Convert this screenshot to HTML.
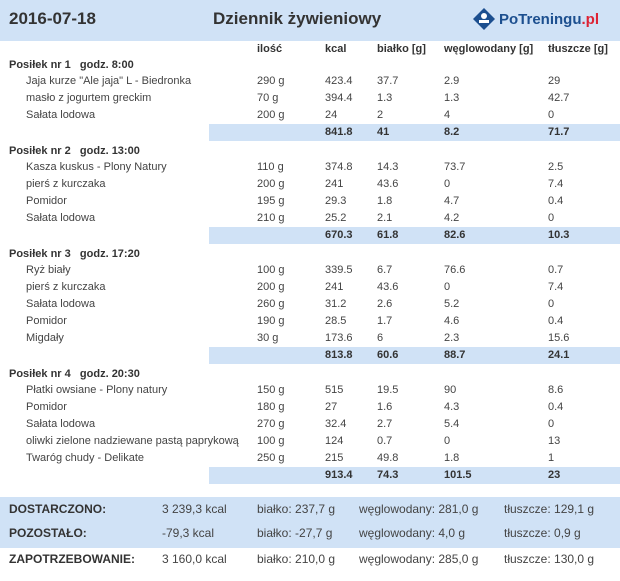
<!DOCTYPE html>
<html><head><meta charset="utf-8">
<style>
body{margin:0;width:620px;height:581px;background:#fff;position:relative;overflow:hidden;font-family:"Liberation Sans","DejaVu Sans",sans-serif;color:#444}
.t{position:absolute;white-space:nowrap;font-size:11px;line-height:14px}
.b{font-weight:bold;color:#333}
.band{position:absolute;background:#d0e2f6}
</style></head>
<body>
<div class="band" style="left:0;top:0;width:620px;height:41px"></div>
<div class="t b" style="left:9px;top:9px;font-size:17px;line-height:20px">2016-07-18</div>
<div class="t b" style="left:213px;top:9px;font-size:17px;line-height:20px">Dziennik żywieniowy</div>
<div style="position:absolute;left:472px;top:7px">
<svg width="140" height="24"><polygon points="12,1 23,12 12,23 1,12" fill="#1c4f8f"/><circle cx="12" cy="9" r="3" fill="#fff"/><rect x="7" y="13" width="10" height="3" fill="#fff"/><text x="27" y="17" font-family="Liberation Sans" font-size="15" font-weight="bold" fill="#1c4f8f">PoTreningu<tspan fill="#d23">.pl</tspan></text></svg></div>
<div id="root"></div>
<script>
const cols=[257,325,377,444,548];
const colHeads=["ilość","kcal","białko [g]","węglowodany [g]","tłuszcze [g]"];
const meals=["Posiłek nr 1   godz. 8:00","Posiłek nr 2   godz. 13:00","Posiłek nr 3   godz. 17:20","Posiłek nr 4   godz. 20:30"];
const items=[
[["Jaja kurze \"Ale jaja\" L - Biedronka","290 g","423.4","37.7","2.9","29"],["masło z jogurtem greckim","70 g","394.4","1.3","1.3","42.7"],["Sałata lodowa","200 g","24","2","4","0"]],
[["Kasza kuskus - Plony Natury","110 g","374.8","14.3","73.7","2.5"],["pierś z kurczaka","200 g","241","43.6","0","7.4"],["Pomidor","195 g","29.3","1.8","4.7","0.4"],["Sałata lodowa","210 g","25.2","2.1","4.2","0"]],
[["Ryż biały","100 g","339.5","6.7","76.6","0.7"],["pierś z kurczaka","200 g","241","43.6","0","7.4"],["Sałata lodowa","260 g","31.2","2.6","5.2","0"],["Pomidor","190 g","28.5","1.7","4.6","0.4"],["Migdały","30 g","173.6","6","2.3","15.6"]],
[["Płatki owsiane - Plony natury","150 g","515","19.5","90","8.6"],["Pomidor","180 g","27","1.6","4.3","0.4"],["Sałata lodowa","270 g","32.4","2.7","5.4","0"],["oliwki zielone nadziewane pastą paprykową","100 g","124","0.7","0","13"],["Twaróg chudy - Delikate","250 g","215","49.8","1.8","1"]]];
const totals=[["841.8","41","8.2","71.7"],["670.3","61.8","82.6","10.3"],["813.8","60.6","88.7","24.1"],["913.4","74.3","101.5","23"]];
const summary=[["DOSTARCZONO:","3 239,3 kcal","białko: 237,7 g","węglowodany: 281,0 g","tłuszcze: 129,1 g"],["POZOSTAŁO:","-79,3 kcal","białko: -27,7 g","węglowodany: 4,0 g","tłuszcze: 0,9 g"],["ZAPOTRZEBOWANIE:","3 160,0 kcal","białko: 210,0 g","węglowodany: 285,0 g","tłuszcze: 130,0 g"]];
const sumX=[9,162,257,359,504];
const root=document.body;
function txt(s,x,y,cls,name){const d=document.createElement('div');d.className='t '+(cls||'');d.style.left=x+'px';d.style.top=(y-7)+'px';d.textContent=s;


root.appendChild(d);return d;}
colHeads.forEach((h,i)=>txt(h,cols[i],49,'b','column-header'));
let y=65;const rh=17;
meals.forEach((m,mi)=>{
 const mt=txt(m,9,y,'b','meal-title');mt.style.whiteSpace='pre';
 y+=rh-1;
 items[mi].forEach(r=>{txt(r[0],26,y,'','food-name');for(let k=1;k<6;k++)txt(r[k],cols[k-1],y,'','food-value');y+=rh;});
 const band=document.createElement('div');band.className='band';band.style.left='209px';band.style.top=(y-8)+'px';band.style.width='411px';band.style.height='17px';
 
 
 root.appendChild(band);
 totals[mi].forEach((v,k)=>txt(v,cols[k+1],y,'b','meal-total'));
 y+=rh+2;
});
const sb=document.createElement('div');sb.className='band';sb.style.left='0';sb.style.top='497px';sb.style.width='620px';sb.style.height='51px';


root.appendChild(sb);
summary.forEach((r,i)=>{const yy=[509,533,559][i];r.forEach((v,k)=>{const d=txt(v,sumX[k],yy,k==0?'b':'','summary-cell');d.style.fontSize='12px';});});
</script>
</body></html>
